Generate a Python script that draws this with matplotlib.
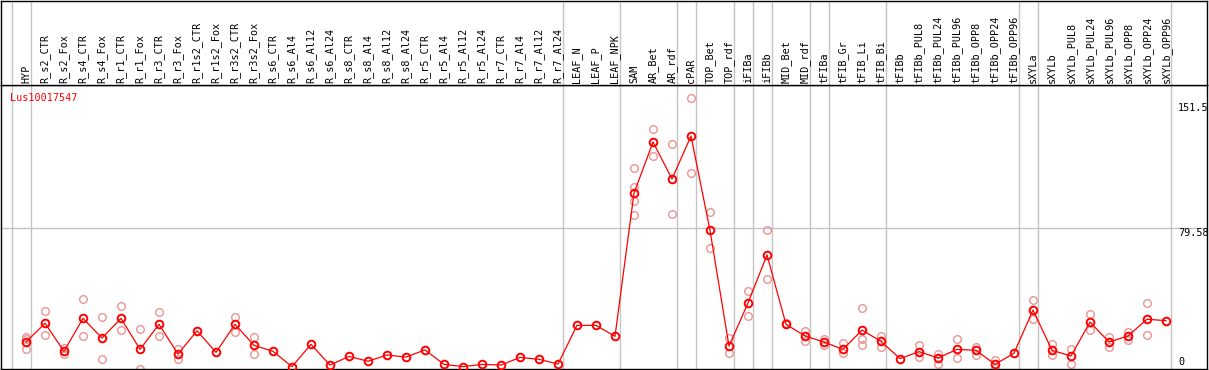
import matplotlib
matplotlib.use("Agg")
import matplotlib.pyplot as plt

# sample names (column headers)
samples = ["HYP", "R_s2_CTR", "R_s2_Fox", "R_s4_CTR", "R_s4_Fox", "R_r1_CTR", "R_r1_Fox",
           "R_r3_CTR", "R_r3_Fox", "R_r1s2_CTR", "R_r1s2_Fox", "R_r3s2_CTR", "R_r3s2_Fox",
           "R_s6_CTR", "R_s6_Al4", "R_s6_Al12", "R_s6_Al24", "R_s8_CTR", "R_s8_Al4",
           "R_s8_Al12", "R_s8_Al24", "R_r5_CTR", "R_r5_Al4", "R_r5_Al12", "R_r5_Al24",
           "R_r7_CTR", "R_r7_Al4", "R_r7_Al12", "R_r7_Al24", "LEAF_N", "LEAF_P", "LEAF_NPK",
           "SAM", "AR_Bet", "AR_rdf", "cPAR", "TOP_Bet", "TOP_rdf", "iFIBa", "iFIBb",
           "MID_Bet", "MID_rdf", "tFIBa", "tFIB_Gr", "tFIB_Li", "tFIB_Bi", "tFIBb",
           "tFIBb_PUL8", "tFIBb_PUL24", "tFIBb_PUL96", "tFIBb_OPP8", "tFIBb_OPP24",
           "tFIBb_OPP96", "sXYLa", "sXYLb", "sXYLb_PUL8", "sXYLb_PUL24", "sXYLb_PUL96",
           "sXYLb_OPP8", "sXYLb_OPP24", "sXYLb_OPP96"]

# mean expression
means = [14.3, 25.1, 9.0, 27.9, 16.6, 27.9, 10.1, 24.5, 7.4, 20.8,
         8.4, 24.5, 12.4, 9.0, 0.2, 13.0, 1.1, 6.1, 3.3, 6.9,
         5.7, 9.8, 1.5, 0.2, 1.5, 1.1, 5.5, 4.4, 1.7,
         23.9, 23.9, 17.6,
         99.7, 129.1, 107.9, 132.5,
         78.4, 12.0, 36.7, 64.3,
         24.5, 17.8, 14.3, 10.1, 21.2, 14.7,
         4.8, 8.8, 5.2, 10.1, 9.6, 1.5, 7.9,
         32.7, 9.6, 6.3, 25.8, 14.3, 17.8, 27.4, 26.6]

# replicate values
reps = [[17.4, 15.9, 10.1], [32.0, 18.2], [10.7, 7.3], [38.8, 17.8], [28.5, 4.4],
        [34.8, 21.2], [21.6, -0.9], [31.4, 17.6], [10.5, 4.4], [],
        [], [28.9, 20.3], [17.2, 7.3], [], [], [], [], [], [], [],
        [], [], [], [], [], [], [], [], [],
        [], [], [],
        [114.0, 103.4, 95.1, 87.0], [136.4, 120.9], [127.8, 87.6], [154.2, 111.1],
        [88.8, 68.1], [16.5, 7.9], [43.6, 29.1], [78.4, 50.3],
        [25.5], [20.7, 14.9], [16.3, 12.4], [13.6, 7.9], [33.7, 16.3, 12.4], [17.8, 11.3],
        [], [12.6, 5.7], [7.6, 1.9], [16.1, 5.0], [11.7, 6.9], [4.0, -0.4], [],
        [38.4, 27.4], [13.2, 6.7], [10.1, 1.9], [30.2, 21.4], [17.0, 11.7],
        [20.3, 15.5], [36.5, 18.2], []]

# last sample index of each group (-1 = left edge)
group_ends = [-1, 0, 28, 31, 34, 35, 37, 38, 39, 41, 42, 45, 52, 53, 60]

gene = "Lus10017547"
ytick_vals = [151.5, 79.58, 0]
ytick_text = ["151.5", "79.58", "0"]

W, H = 1209, 370
fig = plt.figure(figsize=(W / 100, H / 100), dpi=100)
mono = "DejaVu Sans Mono"
grid = "#c4c4c4"
fs = 7.3

ax = fig.add_axes([1 / W, 1 - 369 / H, 1206 / W, 284 / H])
hx = fig.add_axes([1 / W, 1 - 85 / H, 1206 / W, 84.5 / H], sharex=ax)

xmin, xmax = (1 - 26) / 19, (1207 - 26) / 19
ax.set_xlim(xmin, xmax)
ax.set_ylim(-2 / 1.743, 282 / 1.743)

for a in (ax, hx):
    a.set_xticks([])
    a.set_yticks([])
    for s in a.spines.values():
        s.set_linewidth(1.0)
        s.set_color("black")
    for g in group_ends:
        a.axvline(g + 0.25, color=grid, lw=1.0, zorder=0)
hx.set_ylim(0, 1)

ax.axhline(79.58, color=grid, lw=1.0, zorder=0)

# replicates
for i, r in enumerate(reps):
    if r:
        ax.plot([i] * len(r), r, "o", ms=5.5, mfc="none", mec="#eb9494", mew=1.0,
                zorder=2)

# means
ax.plot(range(len(means)), means, "-o", color="red", lw=0.9, ms=5.5, mfc="none",
        mec="red", mew=1.4, zorder=3)

# header labels
tr = hx.get_xaxis_transform()
for i, name in enumerate(samples):
    hx.text(i, 2 / 85, name, rotation=90, ha="center", va="bottom", fontsize=fs,
            family=mono, transform=tr)

ax.text((10 - 26) / 19, 157.2, gene, color="red", fontsize=fs, family=mono,
        ha="left", va="top")

yx = (1178 - 26) / 19
for v, t in zip(ytick_vals, ytick_text):
    ax.text(yx, v, t, fontsize=fs, family=mono, ha="left",
            va="bottom" if v == 0 else "top")

fig.savefig("out.png", dpi=100)
